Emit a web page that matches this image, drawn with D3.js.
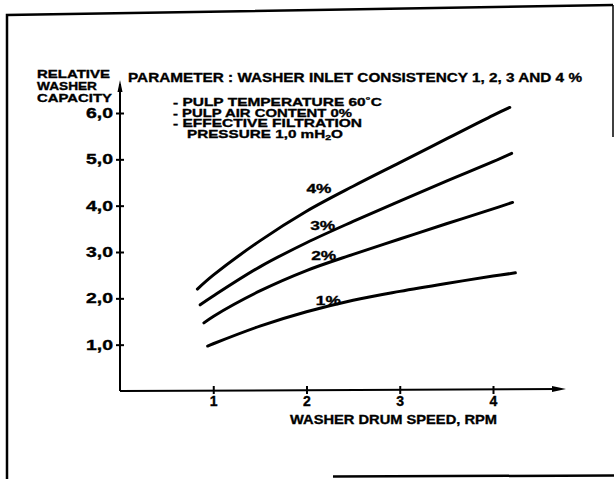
<!DOCTYPE html>
<html>
<head>
<meta charset="utf-8">
<script src="https://cdn.jsdelivr.net/npm/d3@7/dist/d3.min.js"></script>
<style>
  body { margin: 0; background: #fff; }
  text { font-family: "Liberation Sans", Arial, sans-serif; font-weight: bold; fill: #000; stroke: #000; stroke-width: 0.35; }
</style>
</head>
<body>
<div class="playground"></div>
<script>
// drum speed (rpm) vs relative capacity, one array per consistency
var cons1 = [[0.94,0.97],[1,1.02],[1.5,1.4],[2,1.71],[2.5,1.96],[3,2.15],[3.5,2.32],[4,2.48],[4.24,2.55]];
var cons2 = [[0.9,1.47],[1,1.61],[1.5,2.16],[2,2.6],[2.5,2.95],[3,3.28],[3.5,3.61],[4,3.93],[4.21,4.07]];
var cons3 = [[0.86,1.86],[1,2.05],[1.5,2.68],[2,3.2],[2.5,3.66],[3,4.1],[3.5,4.53],[4,4.95],[4.2,5.13]];
var cons4 = [[0.83,2.2],[1,2.5],[1.5,3.24],[2,3.88],[2.5,4.42],[3,4.93],[3.5,5.44],[4,5.95],[4.18,6.12]];

var seriesNames = ["1%", "2%", "3%", "4%"];
var labelAt = [[2.1,1.86],[2.05,2.82],[2.04,3.47],[2.0,4.28]];

var xTicks = [1, 2, 3, 4];
var yTicks = [1, 2, 3, 4, 5, 6];
var yTickLabels = ["1,0", "2,0", "3,0", "4,0", "5,0", "6,0"];

var svg = d3.select('.playground')
  .append('svg')
  .attr('width', 614)
  .attr('height', 479);

// outer frame (photocopy border)
var frame = svg.append('g')
  .attr('fill', 'none')
  .attr('stroke', '#000');
frame.append('path').attr('d', 'M7,479 L7,15 L613,5').attr('stroke-width', 2.5);
frame.append('path').attr('d', 'M613,5 L613,137').attr('stroke-width', 1.5);
frame.append('path').attr('d', 'M333,476.5 L614,475.5').attr('stroke-width', 2.5);

var x = d3.scaleLinear().domain([0, 4]).range([120, 493]);
var y = d3.scaleLinear().domain([0, 6]).range([391, 113]);

// axes lines with arrows
svg.append('line')
  .attr('x1', x(0)).attr('y1', y(0))
  .attr('x2', x(0)).attr('y2', 84)
  .attr('stroke', '#000').attr('stroke-width', 2);
svg.append('path')
  .attr('d', 'M' + x(0) + ',80 L' + (x(0) - 2.5) + ',92 L' + (x(0) + 2.5) + ',92 Z')
  .attr('fill', '#000');

svg.append('line')
  .attr('x1', x(0)).attr('y1', y(0))
  .attr('x2', 560).attr('y2', y(0) - 2)
  .attr('stroke', '#000').attr('stroke-width', 2);
svg.append('path')
  .attr('d', 'M566,' + (y(0) - 2) + ' L552,' + (y(0) - 5) + ' L552,' + (y(0) + 1) + ' Z')
  .attr('fill', '#000');

// y axis ticks
var yAxis = d3.axisLeft(y)
  .tickValues(yTicks)
  .tickSize(0)
  .tickPadding(7)
  .tickFormat(function(d, i){ return yTickLabels[i]; });
var gy = svg.append('g')
  .attr('transform', 'translate(' + x(0) + ',0)')
  .call(yAxis);
gy.select('.domain').remove();
gy.selectAll('.tick line').attr('x1', -4).attr('x2', 4).attr('stroke', '#000').attr('stroke-width', 2);
gy.selectAll('.tick text')
  .attr('font-size', 14)
  .attr('font-family', null)
  .attr('textLength', 27)
  .attr('lengthAdjust', 'spacingAndGlyphs');

// x axis ticks
var xAxis = d3.axisBottom(x)
  .tickValues(xTicks)
  .tickSize(0)
  .tickPadding(6)
  .tickFormat(d3.format('d'));
var gx = svg.append('g')
  .attr('transform', 'translate(0,' + (y(0) - 1) + ')')
  .call(xAxis);
gx.select('.domain').remove();
gx.selectAll('.tick line').attr('y1', -4).attr('y2', 4).attr('stroke', '#000').attr('stroke-width', 2);
gx.selectAll('.tick text')
  .attr('font-size', 14)
  .attr('font-family', null);

// curves
var line = d3.line()
  .x(function(d){ return x(d[0]); })
  .y(function(d){ return y(d[1]); })
  .curve(d3.curveCatmullRom.alpha(0.5));

var allSeries = [cons1, cons2, cons3, cons4];
svg.selectAll('path.curve')
  .data(allSeries)
  .enter()
  .append('path')
  .attr('class', 'curve')
  .attr('d', line)
  .attr('fill', 'none')
  .attr('stroke', '#000')
  .attr('stroke-width', 3)
  .attr('stroke-linecap', 'round');

svg.selectAll('text.clabel')
  .data(seriesNames)
  .enter()
  .append('text')
  .attr('class', 'clabel')
  .attr('x', function(d, i){ return x(labelAt[i][0]); })
  .attr('y', function(d, i){ return y(labelAt[i][1]); })
  .attr('font-size', 13)
  .attr('textLength', 25)
  .attr('lengthAdjust', 'spacingAndGlyphs')
  .text(function(d){ return d; });

// texts
function put(str, tx, ty, size, len){
  var t = svg.append('text')
    .attr('x', tx).attr('y', ty)
    .attr('font-size', size)
    .text(str);
  if (len) t.attr('textLength', len).attr('lengthAdjust', 'spacingAndGlyphs');
  return t;
}

put('RELATIVE', 37, 78, 11.5, 73);
put('WASHER', 37, 90, 11.5, 60);
put('CAPACITY', 37, 102, 11.5, 75);

put('PARAMETER : WASHER INLET CONSISTENCY  1, 2, 3 AND 4 %', 128, 82, 13.5, 454);
put('- PULP TEMPERATURE 60\u02DAC', 173, 106, 11.5, 209);
put('- PULP AIR CONTENT 0%', 173, 116.5, 11.5, 179);
put('- EFFECTIVE FILTRATION', 173, 127, 11.5, 189);

var p = svg.append('text')
  .attr('x', 187).attr('y', 138)
  .attr('font-size', 11.5)
  .attr('textLength', 156)
  .attr('lengthAdjust', 'spacingAndGlyphs');
p.append('tspan').text('PRESSURE 1,0 mH');
p.append('tspan').attr('font-size', 8).attr('dy', 2).text('2');
p.append('tspan').attr('dy', -2).text('O');

put('WASHER DRUM SPEED, RPM', 290, 424, 13, 207);
</script>
</body>
</html>
